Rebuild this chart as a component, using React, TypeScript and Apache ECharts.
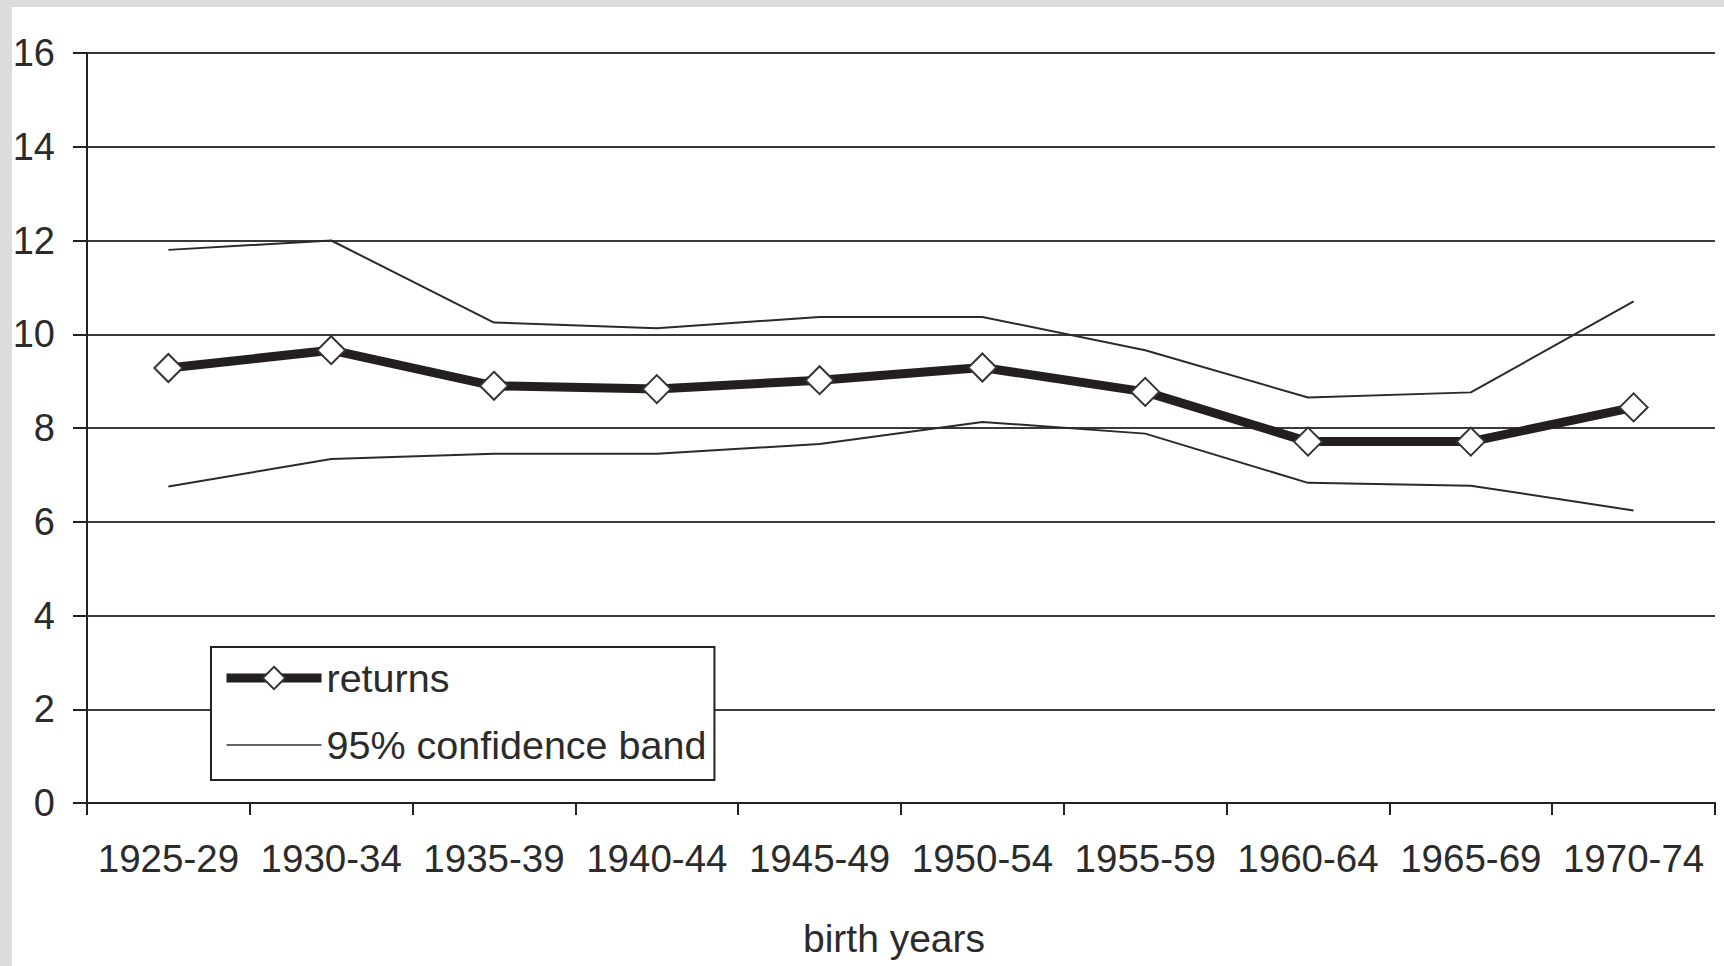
import React, { useEffect, useRef } from "react";
import * as echarts from "echarts";

const categories = [
  "1925-29", "1930-34", "1935-39", "1940-44", "1945-49",
  "1950-54", "1955-59", "1960-64", "1965-69", "1970-74",
];
const returns = [9.28, 9.66, 8.9, 8.83, 9.02, 9.29, 8.77, 7.71, 7.71, 8.44];
const upperBand = [11.8, 12.0, 10.25, 10.13, 10.37, 10.37, 9.66, 8.65, 8.76, 10.7];
const lowerBand = [6.75, 7.34, 7.45, 7.45, 7.66, 8.13, 7.88, 6.83, 6.77, 6.24];
const yTicks = { min: 0, max: 16, interval: 2 };

const FONT = "'Liberation Sans', Arial, Helvetica, sans-serif";
const TEXT = "#2b2b2b";

export default function App() {
  const ref = useRef<HTMLDivElement>(null);
  useEffect(() => {
    if (!ref.current) return;
    const chart = echarts.init(ref.current, null, { renderer: "svg" });
    chart.setOption({
      animation: false,
      backgroundColor: "#ffffff",
      grid: { left: 75, top: 46, width: 1628, height: 750, containLabel: false, outerBoundsMode: "none" },
      legend: {
        data: [
          { name: "returns", lineStyle: { width: 9, color: "#231f20" } },
          {
            name: "95% confidence band",
            lineStyle: { width: 2, color: "#666" },
            itemStyle: { opacity: 0, color: "#fff", borderWidth: 0 },
          },
        ],
        orient: "vertical",
        left: 199,
        top: 640,
        backgroundColor: "#ffffff",
        borderColor: "#222",
        borderWidth: 2,
        borderRadius: 0,
        padding: [11, 8, 15, 11],
        itemWidth: 95,
        itemHeight: 28,
        itemGap: 27,
        textStyle: { fontSize: 39.5, color: TEXT, fontFamily: FONT, padding: [0, 0, 0, 0] },
      },
      xAxis: {
        type: "category",
        data: categories,
        boundaryGap: true,
        name: "birth years",
        nameLocation: "middle",
        nameGap: 116,
        nameTextStyle: { fontSize: 39, color: TEXT, fontFamily: FONT, padding: [0, 14, 0, 0] },
        axisLine: { show: true, lineStyle: { color: "#222", width: 2 } },
        axisTick: { show: true, length: 12, interval: 0, lineStyle: { color: "#222", width: 2 } },
        axisLabel: { fontSize: 38.5, color: TEXT, fontFamily: FONT, margin: 36, interval: 0 },
        splitLine: { show: false },
      },
      yAxis: {
        type: "value",
        min: yTicks.min,
        max: yTicks.max,
        interval: yTicks.interval,
        axisLine: { show: true, lineStyle: { color: "#222", width: 2 } },
        axisTick: { show: true, length: 14, inside: false, lineStyle: { color: "#222", width: 2 } },
        axisLabel: { fontSize: 38, color: TEXT, fontFamily: FONT, margin: 32 },
        splitLine: { show: true, lineStyle: { color: "#3a3a3a", width: 2 } },
      },
      series: [
        {
          name: "95% confidence band",
          type: "line",
          data: upperBand,
          symbol: "none",
          lineStyle: { width: 2, color: "#2a2a2a" },
          itemStyle: { color: "#2a2a2a" },
          z: 2,
        },
        {
          name: "95% confidence band",
          type: "line",
          data: lowerBand,
          symbol: "none",
          lineStyle: { width: 2, color: "#2a2a2a" },
          itemStyle: { color: "#2a2a2a" },
          z: 2,
        },
        {
          name: "returns",
          type: "line",
          data: returns,
          symbol: "diamond",
          symbolSize: 28,
          lineStyle: { width: 9, color: "#231f20" },
          itemStyle: { color: "#ffffff", borderColor: "#333", borderWidth: 2 },
          z: 3,
        },
      ],
    });
    return () => chart.dispose();
  }, []);
  return (
    <div style={{ position: "fixed", left: 0, top: 0, width: 1724, height: 966, background: "#dcdcdc" }}>
      <div
        ref={ref}
        style={{ position: "absolute", left: 12, top: 7, width: 1712, height: 959, background: "#fff" }}
      />
    </div>
  );
}
